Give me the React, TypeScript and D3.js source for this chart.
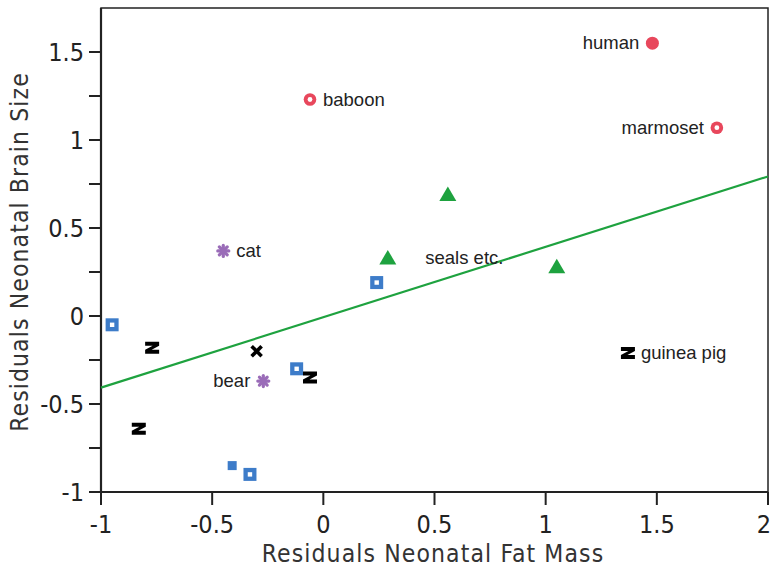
import * as d3 from "d3";

// marker groups, values: [fat mass residual, brain size residual]
const filledCircles = [[1.48, 1.55]];
const ringCircles = [[-0.06, 1.23], [1.77, 1.07]];
const asterisks = [[-0.45, 0.37], [-0.27, -0.37]];
const triangles = [[0.56, 0.69], [0.29, 0.33], [1.05, 0.28]];
const hollowSquares = [[0.24, 0.19], [-0.95, -0.05], [-0.12, -0.3], [-0.33, -0.9]];
const filledSquares = [[-0.41, -0.85]];
const zMarks = [[-0.77, -0.18], [-0.83, -0.64], [-0.06, -0.35], [1.37, -0.21]];
const xMarks = [[-0.3, -0.2]];

// labels: text, point it belongs to, side
const labelTexts = ["human", "baboon", "marmoset", "cat", "bear", "seals etc.", "guinea pig"];
const labelPoints = [[1.48, 1.55], [-0.06, 1.23], [1.77, 1.07], [-0.45, 0.37], [-0.27, -0.37], [0.4, 0.33], [1.37, -0.21]];
const labelSides = ["left", "right", "left", "right", "left", "right", "right"];

// regression line
const fitSlope = 0.4;
const fitIntercept = -0.007;

const xTicks = [-1, -0.5, 0, 0.5, 1, 1.5, 2];
const yTicks = [-1, -0.75, -0.5, -0.25, 0, 0.25, 0.5, 0.75, 1, 1.25, 1.5];
const yTickLabels = [-1, -0.5, 0, 0.5, 1, 1.5];

const RED = "#e8475c";
const BLUE = "#3d7cc9";
const GREEN = "#1ea23f";
const PURPLE = "#9a6cb8";

const W = 771;
const H = 568;
const left = 101;
const right = 768;
const top = 8;
const bottom = 492;

const axisFont = "'DejaVu Sans Condensed', 'Liberation Sans Narrow', sans-serif";
const labelFont = "'Liberation Sans', Arial, sans-serif";

export default function App() {
  const x = d3.scaleLinear().domain([-1, 2]).range([left, right]);
  const y = d3.scaleLinear().domain([-1, 1.75]).range([bottom, top]);

  const fitLine = d3
    .line<number>()
    .x((v) => x(v))
    .y((v) => y(fitIntercept + fitSlope * v));

  return (
    <svg width={W} height={H} style={{ position: "absolute", left: 0, top: 0, background: "#fff" }}>
      {/* frame */}
      <rect x={left} y={top} width={right - left} height={bottom - top} fill="none" stroke="#222" strokeWidth={1.5} />
      <line x1={left} x2={left} y1={top} y2={bottom} stroke="#222" strokeWidth={2.2} />
      <line x1={left} x2={right} y1={bottom} y2={bottom} stroke="#222" strokeWidth={2.2} />

      {/* x axis ticks */}
      {xTicks.map((t) => (
        <g key={"xt" + t}>
          <line x1={x(t)} x2={x(t)} y1={bottom} y2={bottom + 13} stroke="#222" strokeWidth={2} />
          <text
            x={t === 2 ? x(t) - 4 : x(t)}
            y={533}
            textAnchor="middle"
            fontFamily={axisFont}
            fontSize={25}
            fill="#222"
          >
            {String(t)}
          </text>
        </g>
      ))}

      {/* y axis ticks */}
      {yTicks.map((t) => (
        <line key={"yt" + t} x1={left - 12} x2={left} y1={y(t)} y2={y(t)} stroke="#222" strokeWidth={2} />
      ))}
      {yTickLabels.map((t) => (
        <text key={"yl" + t} x={left - 17} y={y(t) + 9} textAnchor="end" fontFamily={axisFont} fontSize={25} fill="#222">
          {String(t)}
        </text>
      ))}

      {/* axis titles */}
      <text x={433} y={562} textAnchor="middle" fontFamily={axisFont} fontSize={24.5} letterSpacing={1.1} fill="#333">
        Residuals Neonatal Fat Mass
      </text>
      <text
        transform={`translate(28,${(top + bottom) / 2 + 2}) rotate(-90)`}
        textAnchor="middle"
        fontFamily={axisFont}
        fontSize={24.5}
        letterSpacing={1.1}
        fill="#333"
      >
        Residuals Neonatal Brain Size
      </text>

      {/* regression line */}
      <path d={fitLine([-1, 2]) ?? ""} fill="none" stroke={GREEN} strokeWidth={2.2} />

      {/* markers */}
      {filledCircles.map(([a, b], i) => (
        <circle key={"fc" + i} cx={x(a)} cy={y(b)} r={6.5} fill={RED} />
      ))}
      {ringCircles.map(([a, b], i) => (
        <g key={"rc" + i}>
          <circle cx={x(a)} cy={y(b)} r={6.3} fill={RED} />
          <circle cx={x(a)} cy={y(b)} r={2.4} fill="#fff" />
        </g>
      ))}
      {asterisks.map(([a, b], i) => (
        <g key={"as" + i} transform={`translate(${x(a)},${y(b)})`} stroke={PURPLE} strokeWidth={3.2} strokeLinecap="round">
          {[0, 45, 90, 135].map((ang) => (
            <line key={ang} x1={-5.5} x2={5.5} y1={0} y2={0} transform={`rotate(${ang})`} />
          ))}
        </g>
      ))}
      {triangles.map(([a, b], i) => (
        <path key={"tr" + i} transform={`translate(${x(a)},${y(b)})`} d="M0,-8L8.5,6.5L-8.5,6.5Z" fill={GREEN} />
      ))}
      {hollowSquares.map(([a, b], i) => (
        <g key={"hs" + i} transform={`translate(${x(a)},${y(b)})`}>
          <rect x={-6.5} y={-6.5} width={13} height={13} fill={BLUE} />
          <rect x={-2.2} y={-2.2} width={4.4} height={4.4} fill="#fff" />
        </g>
      ))}
      {filledSquares.map(([a, b], i) => (
        <rect key={"fs" + i} x={x(a) - 4.5} y={y(b) - 4.5} width={9} height={9} fill={BLUE} />
      ))}
      {zMarks.map(([a, b], i) => (
        <path
          key={"z" + i}
          transform={`translate(${x(a)},${y(b)})`}
          d="M-7,-6H7V-2L-0.5,2H7V6H-7V2L0.5,-2H-7Z"
          fill="#000"
        />
      ))}
      {xMarks.map(([a, b], i) => (
        <g key={"x" + i} transform={`translate(${x(a)},${y(b)})`} stroke="#000" strokeWidth={3.6}>
          <line x1={-5} y1={-5} x2={5} y2={5} />
          <line x1={-5} y1={5} x2={5} y2={-5} />
        </g>
      ))}

      {/* labels */}
      {labelTexts.map((t, i) => {
        const [a, b] = labelPoints[i];
        const side = labelSides[i];
        const dx = side === "left" ? -13 : 13;
        const anchor = side === "left" ? "end" : "start";
        return (
          <text
            key={"lb" + i}
            x={x(a) + dx}
            y={y(b) + 6}
            textAnchor={anchor}
            fontFamily={labelFont}
            fontSize={18.5}
            fill="#222"
          >
            {t}
          </text>
        );
      })}
    </svg>
  );
}
